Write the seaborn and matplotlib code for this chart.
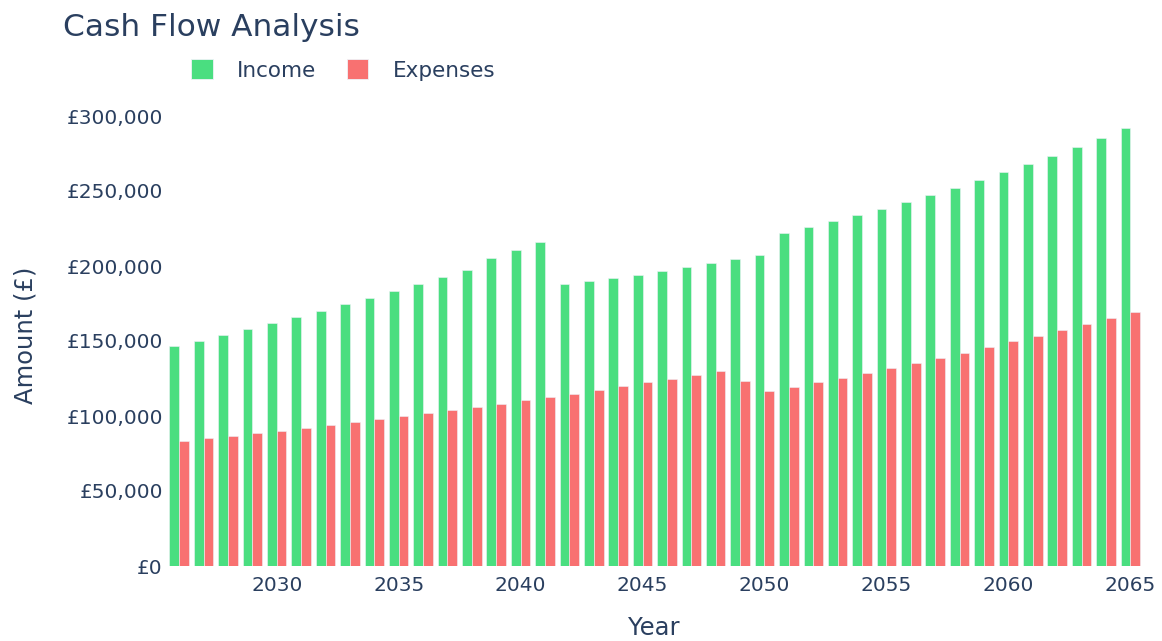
import matplotlib
matplotlib.use("Agg")
import matplotlib.pyplot as plt
import matplotlib.ticker as mticker
from matplotlib.patches import Patch
import seaborn as sns
import pandas as pd

years = list(range(2026, 2066))
income = [146500, 150300, 154000, 157800, 161800, 165800, 170000, 174400, 178700, 183100,
          187800, 192500, 197300, 205300, 210700, 216000, 187800, 189800, 192000, 194300,
          196700, 199300, 201800, 204500, 207300, 222300, 225800, 229800, 233800, 238300,
          242700, 247100, 252300, 257100, 262500, 268000, 273600, 279300, 285600, 292000]
expenses = [83600, 85100, 86900, 88700, 90300, 92000, 94000, 96000, 97800, 99800,
            101800, 103800, 106000, 108300, 110500, 112700, 114900, 117300, 119800, 122500,
            124900, 127600, 130300, 123600, 116700, 119600, 122500, 125600, 128900, 132300,
            135300, 138900, 142300, 145800, 149800, 153300, 157100, 161100, 165100, 169300]
series_names = ["Income", "Expenses"]
colors = {"Income": "#4ade80", "Expenses": "#f87171"}
tick_years = [2030, 2035, 2040, 2045, 2050, 2055, 2060, 2065]

TEXT = "#2a3f5f"

df = pd.DataFrame({
    "Year": years * 2,
    "Amount": income + expenses,
    "Series": ["Income"] * len(years) + ["Expenses"] * len(years),
})

sns.set_theme(style="white")
plt.rcParams["font.family"] = ["DejaVu Sans"]

W, H = 1162, 641
fig = plt.figure(figsize=(W / 100, H / 100), dpi=100)
ax = fig.add_axes([167 / W, 1 - 566 / H, (1142.5 - 167) / W, (566 - 104) / H])

sns.barplot(data=df, x="Year", y="Amount", hue="Series", hue_order=series_names,
            palette=colors, order=years, width=0.8, ax=ax, legend=False,
            edgecolor="#eef2f7", linewidth=0.4, saturation=1)

ax.set_xlim(-0.5, len(years) - 0.5)
ax.set_ylim(0, 308000)
ax.set_xticks([years.index(y) for y in tick_years])
ax.set_xticklabels([str(y) for y in tick_years])
ax.set_yticks([0, 50000, 100000, 150000, 200000, 250000, 300000])
ax.yaxis.set_major_formatter(mticker.FuncFormatter(lambda v, p: f"£{v:,.0f}"))
ax.tick_params(axis="both", length=0, labelsize=14.5, colors=TEXT)
ax.tick_params(axis="x", pad=7)
ax.tick_params(axis="y", pad=3)
for s in ax.spines.values():
    s.set_visible(False)
ax.grid(False)

ax.set_xlabel("")
ax.set_ylabel("")
fig.text(654 / W, 1 - 628 / H, "Year", ha="center", va="center", fontsize=17.5, color=TEXT)
fig.text(25 / W, 1 - 335 / H, "Amount (£)", ha="center", va="center", rotation=90,
         fontsize=17.5, color=TEXT)

fig.text(63 / W, 1 - 36 / H, "Cash Flow Analysis", ha="left", va="baseline",
         fontsize=22.5, color=TEXT)

handles = [Patch(facecolor=colors[n], edgecolor="#eef2f7", linewidth=0.6, label=n) for n in series_names]
fig.legend(handles=handles, loc="center left", bbox_to_anchor=(191 / W, 1 - 70 / H),
           ncol=2, frameon=False, fontsize=15.5, labelcolor=TEXT,
           handlelength=1.0, handleheight=1.0, handletextpad=1.15,
           columnspacing=1.4, borderpad=0, borderaxespad=0)

fig.savefig("out.png", dpi=100)
